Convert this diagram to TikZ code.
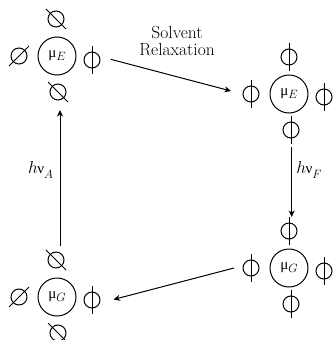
\documentclass[tikz,border=0pt]{standalone}
\usepackage{fontspec}
\newfontfamily\greekfont{Liberation Serif}
\usetikzlibrary{arrows.meta}
\tikzset{
  x=1pt,y=-1pt,
  ring/.style={draw,circle,line width=1pt,minimum size=38pt,inner sep=0pt},
  dipring/.style={draw,circle,line width=1pt,minimum size=16pt,inner sep=0pt},
  stick/.style={line width=1pt},
  link/.style={line width=1pt,-{Stealth[length=6.5pt,width=6pt,inset=2pt]}},
  lab/.style={inner sep=0pt,font=\fontsize{17.5}{17}\selectfont\addfontfeature{LetterSpace=5}},
  hlab/.style={inner sep=0pt,font=\fontsize{16}{18}\selectfont},
}
\newcommand{\dip}[4]{% name, x, y, angle
  \node[dipring] (#1) at (#2,#3) {};
  \draw[stick] ([shift={(#4:14pt)}]#1.center) -- ([shift={(#4+180:14pt)}]#1.center);
}
\newcommand{\mug}[1]{{\greekfont\fontsize{15}{16}\selectfont\char"03BC}\raisebox{-3pt}{\fontsize{13}{13}\selectfont$#1$}}
\newcommand{\hnu}[1]{$h$\kern-0.5pt{\greekfont\fontsize{15}{16}\selectfont\char"03BD}\raisebox{-5pt}{\fontsize{12.5}{13}\selectfont$#1$}}
\begin{document}
\begin{tikzpicture}
\useasboundingbox (0,0) rectangle (332,340);
% top left
\node[ring] (eL) at (57,56) {\mug{E}};
\dip{a1}{56}{19}{-45}
\dip{a2}{58}{92}{-45}
\dip{a3}{19}{56}{45}
\dip{a4}{92}{60}{90}
% top right
\node[ring] (eR) at (289,94) {\mug{E}};
\dip{b1}{289}{57}{90}
\dip{b2}{291}{130}{90}
\dip{b3}{251}{94}{90}
\dip{b4}{324}{97}{90}
% bottom left
\node[ring] (gL) at (57,297) {\mug{G}};
\dip{c1}{56}{260}{-45}
\dip{c2}{58}{333}{-45}
\dip{c3}{19}{297}{45}
\dip{c4}{92}{300}{90}
% bottom right
\node[ring] (gR) at (289,268) {\mug{G}};
\dip{d1}{289}{231}{90}
\dip{d2}{291}{304}{90}
\dip{d3}{251}{268}{90}
\dip{d4}{324}{271}{90}
% anchors
\coordinate (s1) at (110.7,59.3);
\coordinate (e1) at (231,91);
\coordinate (s2) at (291.7,147);
\coordinate (e2) at (291.7,217);
\coordinate (s3) at (234,268);
\coordinate (e3) at (113.5,299.5);
\coordinate (s4) at (60,246);
\coordinate (e4) at (60,110);
\draw[link] (s1) -- (e1);
\draw[link] (s2) -- (e2);
\draw[link] (s3) -- (e3);
\draw[link] (s4) -- (e4);
\node[lab,align=center] (sr) at (177,41.5) {Solvent\\Relaxation};
\node[hlab] (hA) at (40.5,169.5) {\hnu{A}};
\node[hlab] (hF) at (309,169.5) {\hnu{F}};
\end{tikzpicture}
\end{document}
